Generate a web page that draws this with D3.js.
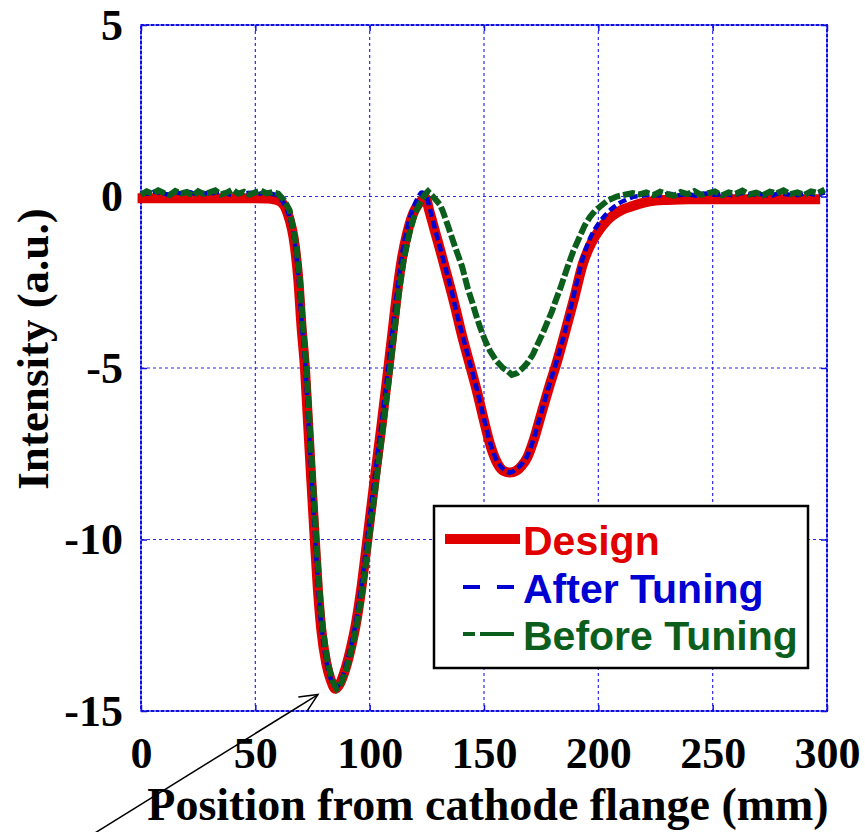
<!DOCTYPE html>
<html>
<head>
<meta charset="utf-8">
<script src="https://cdn.jsdelivr.net/npm/d3@7"></script>
<style>
  body { margin: 0; background: #fff; }
</style>
</head>
<body>
<script>
// axis ticks
const xTicks = [0, 50, 100, 150, 200, 250, 300];
const yTicks = [5, 0, -5, -10, -15];

// Design
const posDesign = [-1.5, 10, 20, 30, 40, 50, 55, 58, 61, 64, 67.3, 68.8, 70.2, 71.7, 72.8, 74.5, 76, 77.3, 78.8, 81,
  83, 85, 87, 89.5, 92, 94, 96.2, 99, 102, 105.4, 108, 110, 112, 114, 116.3, 119, 121, 123, 124.5, 126,
  128.5, 131, 133, 136, 137.7, 140, 144, 147, 149.5, 153, 156, 158.5, 161.3, 164, 166.5, 169, 172, 175, 178.5, 182,
  185.5, 189.3, 193.3, 197, 200.7, 203.5, 206.4, 210, 215, 220, 225, 230, 240, 250, 260, 270, 280, 290, 297];
const valDesign = [-0.05, -0.05, -0.05, -0.05, -0.05, -0.05, -0.06, -0.08, -0.15, -0.47, -1.46, -2.42, -3.8, -5.0, -6.3, -8.3, -10, -11.4, -12.6, -13.6,
  -14.1, -14.35, -14.2, -13.75, -13.1, -12.45, -11.5, -10, -8.35, -6.55, -5.1, -3.95, -2.8, -1.85, -1.1, -0.5, -0.25, -0.1, -0.05, -0.4,
  -1.0, -1.6, -2.1, -2.85, -3.3, -3.95, -4.95, -5.7, -6.4, -7.3, -7.8, -8.0, -8.05, -8.0, -7.85, -7.6, -7.05, -6.35, -5.55, -4.8,
  -3.95, -3.0, -1.95, -1.35, -0.95, -0.72, -0.55, -0.4, -0.28, -0.18, -0.12, -0.1, -0.08, -0.08, -0.08, -0.08, -0.08, -0.08, -0.08];

// After Tuning
const posAfter = [0, 3, 6, 9, 12, 15, 18, 21, 24, 27, 30, 33, 36, 39, 42, 45, 48, 51, 54, 57,
  60, 62, 64.5, 67.5, 69, 70.4, 71.9, 73, 74.7, 76.2, 77.5, 79, 81.2, 83.2, 85.2, 87.2, 89.5, 92, 94, 96.2,
  99, 102, 105.4, 108, 110, 112, 114, 116.3, 119, 121, 122.8, 124.5, 126.5, 128.8, 131, 133, 136, 137.7, 140, 144,
  147, 149.5, 153, 156, 158.5, 161.5, 164, 166.5, 169, 172, 175, 178.5, 182, 185.5, 189, 193, 196.5, 200, 203, 206,
  209, 212, 215, 219, 223, 227, 231, 235, 239, 243, 247, 251, 255, 259, 263, 267, 271, 275, 279, 283, 287, 291, 295, 299];
const valAfter = [0.12, 0.08, 0.14, 0.1, 0.06, 0.12, 0.09, 0.13, 0.07, 0.11, 0.08, 0.13, 0.1, 0.06, 0.12, 0.09, 0.11, 0.07, 0.12, 0.08,
  0.02, -0.15, -0.5, -1.5, -2.45, -3.8, -5.0, -6.3, -8.3, -10, -11.4, -12.6, -13.6, -14.1, -14.3, -14.15, -13.7, -13.05, -12.4, -11.45,
  -9.95, -8.3, -6.5, -5.05, -3.9, -2.75, -1.75, -0.95, -0.35, -0.05, 0.12, 0.05, -0.4, -1.0, -1.55, -2.05, -2.8, -3.3, -3.9, -4.9,
  -5.65, -6.35, -7.25, -7.75, -7.95, -8.05, -7.95, -7.8, -7.55, -7.0, -6.3, -5.5, -4.75, -3.9, -2.95, -1.85, -1.2, -0.8, -0.55, -0.35,
  -0.2, -0.1, -0.02, 0.02, 0.06, 0.03, 0.08, 0.04, 0.07, 0.02, 0.09, 0.05, 0.08, 0.03, 0.1, 0.05, 0.07, 0.02, 0.09, 0.06, 0.04, 0.1, 0.05, 0.12];

// Before Tuning
const posBefore = [0, 2.5, 5, 7.5, 10, 12.5, 15, 17.5, 20, 22.5, 25, 27.5, 30, 32.5, 35, 37.5, 40, 42.5, 45, 47.5, 50, 52.5, 55, 57.5, 60,
  62.5, 65, 68, 69.5, 70.9, 72.4, 73.5, 75.2, 76.7, 78, 79.5, 81.7, 83.6, 85.5, 87.5, 90, 92.5, 94.5, 96.8, 99.7,
  102.8, 106.2, 108.8, 110.8, 112.8, 114.9, 117.3, 119.8, 122, 124, 125.5, 127.7, 130.7, 132, 134.3, 137.3, 140.4, 143, 144.7, 146.5,
  148.2, 150.5, 152.6, 155.5, 158.3, 160.5, 162.2, 164.5, 167, 169, 171.4, 173.5, 175.8, 177.8, 179.7, 181, 183.5, 186.3, 189, 192,
  194, 196.3, 198.5, 200.7, 204, 208, 211.5, 215,
  218, 221, 224, 227, 230, 233, 236, 239, 242, 245, 248, 251, 254, 257, 260, 263, 266, 269, 272, 275, 278, 281, 284, 287, 290, 293, 296, 299];
const valBefore = [0.05, 0.15, 0.08, 0.18, 0.1, 0.04, 0.16, 0.09, 0.13, 0.02, 0.15, 0.07, 0.12, 0.18, 0.06, 0.11, 0.2, 0.08, 0.14, 0.05, 0.12, 0.17, 0.09, 0.13, 0.08,
  -0.1, -0.4, -1.46, -2.42, -3.8, -5.0, -6.3, -8.3, -10, -11.4, -12.6, -13.6, -14.1, -14.35, -14.2, -13.75, -13.1, -12.45, -11.5, -10,
  -8.35, -6.55, -5.1, -3.95, -2.8, -1.85, -1.1, -0.5, -0.2, 0.05, 0.15, 0.0, -0.23, -0.43, -0.87, -1.46, -2.04, -2.7, -3.05, -3.45,
  -3.8, -4.2, -4.5, -4.8, -5.0, -5.1, -5.2, -5.15, -5.0, -4.85, -4.6, -4.3, -3.97, -3.65, -3.35, -3.1, -2.65, -2.1, -1.6, -1.15,
  -0.85, -0.6, -0.42, -0.3, -0.12, 0.0, 0.05, 0.1,
  0.06, 0.12, 0.04, 0.14, 0.08, 0.02, 0.13, 0.07, 0.16, 0.05, 0.1, 0.15, 0.03, 0.12, 0.08, 0.17, 0.06, 0.11, 0.04, 0.14, 0.09, 0.18, 0.07, 0.12, 0.05, 0.15, 0.1, 0.2];

const seriesNames = ["Design", "After Tuning", "Before Tuning"];

const svgwidth = 865;
const svgheight = 832;
const pLeft = 141, pRight = 827, pTop = 25, pBottom = 711;

const RED = "#e00000", BLUE = "#0000d2", GREEN = "#0b5e1c", GRID = "#2a2af0";
const serif = "'Liberation Serif', 'Times New Roman', serif";
const sans = "'Liberation Sans', Arial, sans-serif";

const svg = d3.select("body").append("svg")
  .attr("width", svgwidth)
  .attr("height", svgheight);

const xScale = d3.scaleLinear().domain([0, 300]).range([pLeft, pRight]);
const yScale = d3.scaleLinear().domain([-15, 5]).range([pBottom, pTop]);

// grid lines
svg.append("g")
  .selectAll("line")
  .data(xTicks.slice(1, -1))
  .enter().append("line")
  .attr("x1", d => xScale(d)).attr("x2", d => xScale(d))
  .attr("y1", pTop).attr("y2", pBottom)
  .attr("stroke", GRID).attr("stroke-width", 1.2).attr("stroke-dasharray", "3,3");
svg.append("g")
  .selectAll("line")
  .data(yTicks.slice(1, -1))
  .enter().append("line")
  .attr("y1", d => yScale(d)).attr("y2", d => yScale(d))
  .attr("x1", pLeft).attr("x2", pRight)
  .attr("stroke", GRID).attr("stroke-width", 1.2).attr("stroke-dasharray", "3,3");

// frame
svg.append("rect")
  .attr("x", pLeft).attr("y", pTop)
  .attr("width", pRight - pLeft).attr("height", pBottom - pTop)
  .attr("fill", "none").attr("stroke", "#7a7aff").attr("stroke-width", 2);
svg.append("rect")
  .attr("x", pLeft).attr("y", pTop)
  .attr("width", pRight - pLeft).attr("height", pBottom - pTop)
  .attr("fill", "none").attr("stroke", "#1010e0").attr("stroke-width", 2).attr("stroke-dasharray", "3,2");

// axes
svg.append("g")
  .attr("transform", "translate(0," + pBottom + ")")
  .call(d3.axisBottom(xScale).tickValues(xTicks).tickSize(-6).tickPadding(26).tickFormat(d3.format("d")));
svg.append("g")
  .attr("transform", "translate(" + pLeft + ",0)")
  .call(d3.axisLeft(yScale).tickValues(yTicks).tickSize(-6).tickPadding(18).tickFormat(d => String(d)));
svg.append("g")
  .attr("transform", "translate(0," + pTop + ")")
  .call(d3.axisTop(xScale).tickValues(xTicks).tickSize(-6).tickFormat(""));
svg.append("g")
  .attr("transform", "translate(" + pRight + ",0)")
  .call(d3.axisRight(yScale).tickValues(yTicks).tickSize(-6).tickFormat(""));

svg.selectAll(".domain").remove();
svg.selectAll(".tick line").attr("stroke", "#1010e0").attr("stroke-width", 1.5);
svg.selectAll(".tick text")
  .attr("font-family", serif)
  .attr("font-size", 44)
  .attr("font-weight", "bold")
  .attr("fill", "#000");

// axis titles
svg.append("text")
  .attr("x", 488).attr("y", 820)
  .attr("text-anchor", "middle")
  .attr("font-family", serif).attr("font-size", 46).attr("font-weight", "bold")
  .text("Position from cathode flange (mm)");
svg.append("text")
  .attr("transform", "translate(48,349) rotate(-90)")
  .attr("text-anchor", "middle")
  .attr("font-family", serif).attr("font-size", 45).attr("font-weight", "bold")
  .text("Intensity (a.u.)");

// curves
const smooth = d3.line()
  .x(d => xScale(d[0]))
  .y(d => yScale(d[1]))
  .curve(d3.curveMonotoneX);
const jagged = d3.line()
  .x(d => xScale(d[0]))
  .y(d => yScale(d[1]));

svg.append("path")
  .datum(d3.zip(posDesign, valDesign))
  .attr("d", smooth)
  .attr("fill", "none").attr("stroke", RED).attr("stroke-width", 10)
  .attr("stroke-linejoin", "round");
svg.append("path")
  .datum(d3.zip(posAfter, valAfter))
  .attr("d", smooth)
  .attr("fill", "none").attr("stroke", BLUE).attr("stroke-width", 4.5)
  .attr("stroke-dasharray", "8,4");
svg.append("path")
  .datum(d3.zip(posBefore, valBefore))
  .attr("d", jagged)
  .attr("fill", "none").attr("stroke", GREEN).attr("stroke-width", 6)
  .attr("stroke-dasharray", "12,3");

// legend
const legend = svg.append("g");
legend.append("rect")
  .attr("x", 434).attr("y", 506).attr("width", 374).attr("height", 162)
  .attr("fill", "#fff").attr("stroke", "#000").attr("stroke-width", 2.5);
const legColors = [RED, BLUE, GREEN];
const legY = [539, 587, 634];
legend.append("line")
  .attr("x1", 445).attr("x2", 520).attr("y1", legY[0]).attr("y2", legY[0])
  .attr("stroke", RED).attr("stroke-width", 10);
legend.append("line")
  .attr("x1", 463).attr("x2", 514).attr("y1", legY[1]).attr("y2", legY[1])
  .attr("stroke", BLUE).attr("stroke-width", 4).attr("stroke-dasharray", "17,17");
legend.append("line")
  .attr("x1", 463).attr("x2", 514).attr("y1", legY[2]).attr("y2", legY[2])
  .attr("stroke", GREEN).attr("stroke-width", 4).attr("stroke-dasharray", "12,5,34");
legend.selectAll("text.lg")
  .data(seriesNames)
  .enter().append("text")
  .attr("class", "lg")
  .attr("x", 523)
  .attr("y", (d, i) => legY[i] + 16)
  .attr("font-family", sans).attr("font-size", 41).attr("font-weight", "bold")
  .attr("fill", (d, i) => legColors[i])
  .text(d => d);

// arrow pointing at the first minimum
svg.append("defs").append("marker")
  .attr("id", "head")
  .attr("markerUnits", "userSpaceOnUse")
  .attr("viewBox", "-20 -10 22 20")
  .attr("refX", 0).attr("refY", 0)
  .attr("markerWidth", 22).attr("markerHeight", 20)
  .attr("orient", "auto")
  .append("path")
  .attr("d", "M-18,-8.3L0,0L-18,8.3")
  .attr("fill", "none").attr("stroke", "#000").attr("stroke-width", 1.5);
svg.append("line")
  .attr("x1", xScale(-20)).attr("y1", yScale(-18.55))
  .attr("x2", xScale(77.4)).attr("y2", yScale(-14.52))
  .attr("stroke", "#000").attr("stroke-width", 1.5)
  .attr("marker-end", "url(#head)");
</script>
</body>
</html>
